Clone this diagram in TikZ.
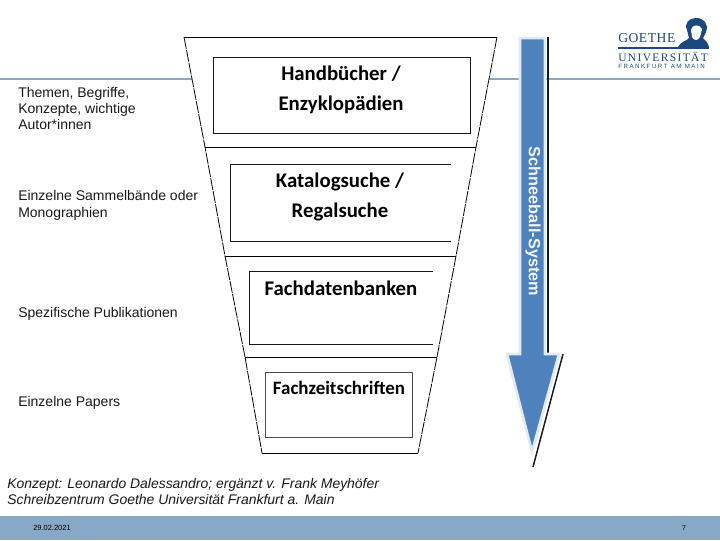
\documentclass[tikz,border=0pt]{standalone}
\usepackage{fontspec}
\setmainfont{Liberation Sans}
\newfontfamily\boxfont{Carlito}
\newfontfamily\serifa[LetterSpace=4]{Liberation Serif}
\newfontfamily\serifb[LetterSpace=12]{Liberation Serif}
\newfontfamily\sansb[LetterSpace=25]{Liberation Sans}
\definecolor{barblue}{RGB}{135,168,199}
\definecolor{arrowblue}{RGB}{79,129,189}
\definecolor{halo}{RGB}{226,234,242}
\definecolor{logoblue}{RGB}{28,72,125}
\tikzset{x=0.75pt,y=-0.75pt,
 txt/.style={font=\fontsize{10.5pt}{12.2pt}\selectfont,anchor=north west,align=left,inner sep=0pt,text=black!90},
 head/.style={font=\boxfont\bfseries\fontsize{15.6pt}{22.5pt}\selectfont,align=center,inner sep=0pt},
 slant/.style={line width=0.6pt,dash pattern=on 9pt off 0.8pt},
 solidl/.style={line width=0.75pt},
 boxl/.style={line width=0.75pt,draw=black!90}}
\begin{document}
\begin{tikzpicture}
\useasboundingbox (0,0) rectangle (720,540);
\fill[white] (0,0) rectangle (720,540);
% header rule
\coordinate (ruleL) at (0,79); \coordinate (ruleR) at (720,79);
\draw[barblue,line width=2pt] (ruleL) -- (ruleR);
% footer
\fill[barblue] (0,516) rectangle (720,540);
% funnel segments
\coordinate (a1) at (184,37); \coordinate (a2) at (497,37);
\coordinate (a3) at (205,147); \coordinate (a4) at (476,147);
\coordinate (b3) at (225,256); \coordinate (b4) at (456,256);
\coordinate (c3) at (245,357); \coordinate (c4) at (437,357);
\coordinate (d3) at (262,453); \coordinate (d4) at (418,453);
\fill[white] (a1) -- (a2) -- (a4) -- (a3) -- cycle;
\draw[solidl] (a1) -- (a2);
\draw[solidl] (a3) -- (a4);
\draw[solidl] (b3) -- (b4);
\draw[solidl] (c3) -- (c4);
\draw[solidl] (d3) -- (d4);
\draw[slant] (a1) -- (a3) -- (b3) -- (c3) -- (d3);
\draw[slant] (a2) -- (a4) -- (b4) -- (c4) -- (d4);
% boxes
\draw[boxl,fill=white] (213,57) rectangle (470,133);
\node[head] (hand) at (341,89.5) {Handbücher /\\Enzyklopädien};
\draw[boxl] (451,164) -- (230,164) -- (230,241) -- (451,241);
\node[head] (kat) at (340,196.5) {Katalogsuche /\\Regalsuche};
\draw[boxl] (433,271) -- (249,271) -- (249,344) -- (433,344);
\node[head] (fach) at (341,288.5) {Fachdatenbanken};
\draw[boxl,draw=black!70] (265,372) rectangle (412,437);
\node[head,font=\boxfont\bfseries\fontsize{14.2pt}{16pt}\selectfont] (zeit) at (339,388) {Fachzeitschriften};
% arrow
\draw[black!90,line width=1.1pt] (548,37) -- (548,354);
\draw[black!90,line width=1.1pt] (563,354) -- (533,467);
\path[fill=arrowblue,draw=halo,line width=2pt] (520,38) -- (545,38) -- (545,354) -- (559,354) -- (532,452) -- (507,354) -- (520,354) -- cycle;
\node[rotate=-90,font=\bfseries\fontsize{12.2pt}{13pt}\selectfont,text=white!92!arrowblue,inner sep=0pt] (sch) at (533,221.5) {Schneeball-System};
% left texts
\node[txt] (t1) at (18,87) {Themen, Begriffe,\\Konzepte, wichtige\\Autor*innen};
\node[txt] (t2) at (18,190.5) {Einzelne Sammelbände oder\\Monographien};
\node[txt] (t3) at (18,307) {Spezifische Publikationen};
\node[txt] (t4) at (18,396) {Einzelne Papers};
\node[txt,font=\itshape\fontsize{10.45pt}{12pt}\selectfont] (t5) at (7,478) {Konzept: Leonardo Dalessandro; ergänzt v. Frank Meyhöfer\\Schreibzentrum Goethe Universität Frankfurt a. Main};
\node[font=\fontsize{5.6pt}{6pt}\selectfont,inner sep=0pt,text=black] (date) at (52,528) {29.02.2021};
\node[font=\fontsize{5.2pt}{6pt}\selectfont,inner sep=0pt,text=black] (pg) at (684,528) {7};
% logo
\fill[white] (612,14) rectangle (720,72);
\node[font=\serifa\fontsize{10.2pt}{11pt}\selectfont,text=logoblue,anchor=west,inner sep=0pt] (lg1) at (618,38) {GOETHE};
\draw[logoblue,line width=0.8pt] (618,48) -- (709,48);
\node[font=\serifb\fontsize{8.6pt}{9pt}\selectfont,text=logoblue,anchor=west,inner sep=0pt] (lg2) at (618,56.5) {UNIVERSITÄT};
\node[font=\sansb\fontsize{4.6pt}{5pt}\selectfont,text=logoblue,anchor=west,inner sep=0pt] (lg3) at (618,66) {FRANKFURT AM MAIN};
\fill[logoblue] (678,47) .. controls (681,41) and (687,41) .. (689,38) -- (687,30) .. controls (684,23) and (689,18) .. (696,18) .. controls (704,18) and (709,24) .. (706,32) -- (703,38) .. controls (706,41) and (708,43) .. (709,47) -- cycle;
\fill[white] (691,30) .. controls (692,24) and (700,24) .. (702,29) -- (700,37) .. controls (698,41) and (694,41) .. (692,37) -- cycle;
\end{tikzpicture}
\end{document}
